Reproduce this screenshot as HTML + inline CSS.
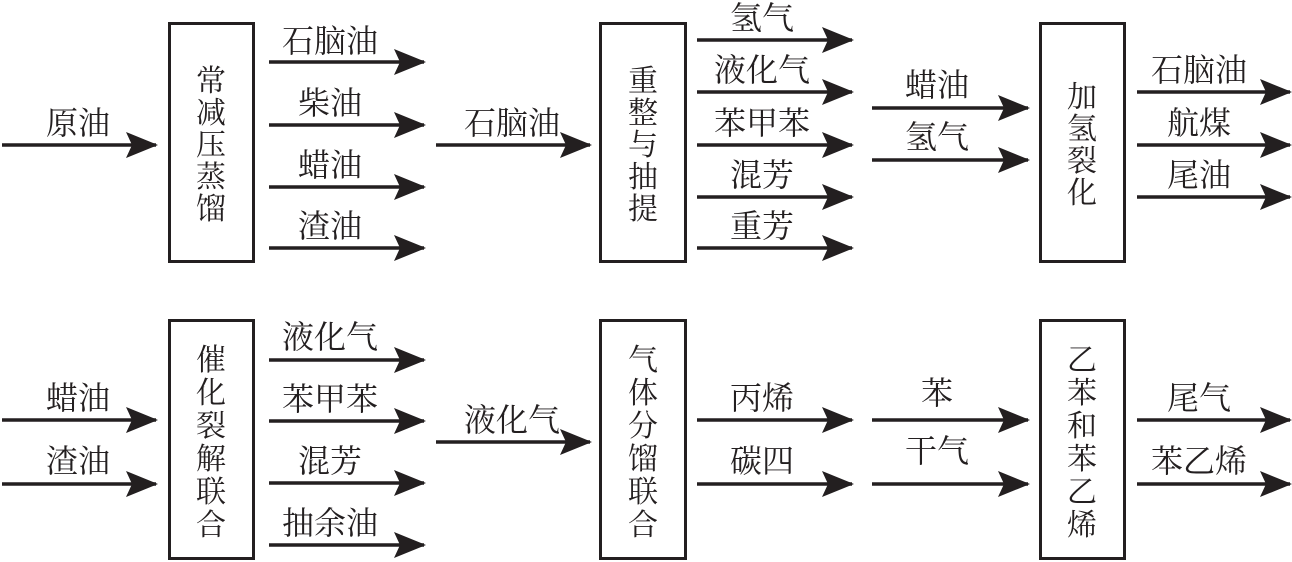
<!DOCTYPE html>
<html><head><meta charset="utf-8"><style>
html,body{margin:0;padding:0;background:#fff;}
svg{display:block;}
text{font-family:"Liberation Serif","Noto Serif CJK SC",serif;font-size:30px;fill:#231f20;}
.l text{font-size:32px;}
</style></head><body>
<svg width="1292" height="562" viewBox="0 0 1292 562" xmlns="http://www.w3.org/2000/svg">
<defs>
<marker id="ah" markerWidth="32" markerHeight="26" refX="30" refY="13" orient="auto" markerUnits="userSpaceOnUse">
<path d="M0,0 L32,13 L0,26 L6,13 Z" fill="#231f20"/>
</marker>
</defs>
<g stroke="#231f20" stroke-width="3.5" fill="none" marker-end="url(#ah)">
<line x1="2" y1="145" x2="156" y2="145"/>
<line x1="269" y1="62" x2="424" y2="62"/>
<line x1="269" y1="125" x2="424" y2="125"/>
<line x1="269" y1="187" x2="424" y2="187"/>
<line x1="269" y1="248" x2="424" y2="248"/>
<line x1="436" y1="145" x2="590" y2="145"/>
<line x1="697" y1="40" x2="852" y2="40"/>
<line x1="697" y1="92" x2="852" y2="92"/>
<line x1="697" y1="145" x2="852" y2="145"/>
<line x1="697" y1="197" x2="852" y2="197"/>
<line x1="697" y1="248" x2="852" y2="248"/>
<line x1="872" y1="108" x2="1028" y2="108"/>
<line x1="872" y1="160" x2="1028" y2="160"/>
<line x1="1137" y1="92" x2="1290" y2="92"/>
<line x1="1137" y1="145" x2="1290" y2="145"/>
<line x1="1137" y1="197" x2="1290" y2="197"/>
<line x1="2" y1="420" x2="156" y2="420"/>
<line x1="2" y1="484" x2="156" y2="484"/>
<line x1="269" y1="360" x2="424" y2="360"/>
<line x1="269" y1="421" x2="424" y2="421"/>
<line x1="269" y1="483" x2="424" y2="483"/>
<line x1="269" y1="545" x2="424" y2="545"/>
<line x1="436" y1="442" x2="590" y2="442"/>
<line x1="697" y1="420" x2="852" y2="420"/>
<line x1="697" y1="484" x2="852" y2="484"/>
<line x1="872" y1="420" x2="1028" y2="420"/>
<line x1="872" y1="484" x2="1028" y2="484"/>
<line x1="1137" y1="420" x2="1290" y2="420"/>
<line x1="1137" y1="484" x2="1290" y2="484"/>
</g>
<g stroke="#231f20" stroke-width="3" fill="none">
<rect x="169.5" y="23.5" width="84" height="238"/>
<rect x="600.5" y="23.5" width="85" height="238"/>
<rect x="1040.5" y="23.5" width="84" height="238"/>
<rect x="169.5" y="320.5" width="84" height="238"/>
<rect x="600.5" y="320.5" width="85" height="238"/>
<rect x="1040.5" y="320.5" width="84" height="238"/>
</g>
<g text-anchor="middle">
<text x="211" y="91"><tspan x="211">常</tspan><tspan x="211" dy="32">减</tspan><tspan x="211" dy="32">压</tspan><tspan x="211" dy="32">蒸</tspan><tspan x="211" dy="32">馏</tspan></text>
<text x="643" y="91"><tspan x="643">重</tspan><tspan x="643" dy="32">整</tspan><tspan x="643" dy="32">与</tspan><tspan x="643" dy="32">抽</tspan><tspan x="643" dy="32">提</tspan></text>
<text x="1082" y="107"><tspan x="1082">加</tspan><tspan x="1082" dy="32">氢</tspan><tspan x="1082" dy="32">裂</tspan><tspan x="1082" dy="32">化</tspan></text>
<text x="211" y="370"><tspan x="211">催</tspan><tspan x="211" dy="33">化</tspan><tspan x="211" dy="33">裂</tspan><tspan x="211" dy="33">解</tspan><tspan x="211" dy="33">联</tspan><tspan x="211" dy="33">合</tspan></text>
<text x="643" y="370"><tspan x="643">气</tspan><tspan x="643" dy="33">体</tspan><tspan x="643" dy="33">分</tspan><tspan x="643" dy="33">馏</tspan><tspan x="643" dy="33">联</tspan><tspan x="643" dy="33">合</tspan></text>
<text x="1082" y="370"><tspan x="1082">乙</tspan><tspan x="1082" dy="33">苯</tspan><tspan x="1082" dy="33">和</tspan><tspan x="1082" dy="33">苯</tspan><tspan x="1082" dy="33">乙</tspan><tspan x="1082" dy="33">烯</tspan></text>
</g>
<g text-anchor="middle" class="l">
<text x="78" y="134">原油</text>
<text x="330" y="52">石脑油</text>
<text x="330" y="114">柴油</text>
<text x="330" y="176">蜡油</text>
<text x="330" y="237">渣油</text>
<text x="512" y="134">石脑油</text>
<text x="762" y="29">氢气</text>
<text x="762" y="81">液化气</text>
<text x="762" y="134">苯甲苯</text>
<text x="762" y="186">混芳</text>
<text x="762" y="237">重芳</text>
<text x="937" y="96">蜡油</text>
<text x="937" y="148">氢气</text>
<text x="1199" y="81">石脑油</text>
<text x="1199" y="134">航煤</text>
<text x="1199" y="186">尾油</text>
<text x="78" y="409">蜡油</text>
<text x="78" y="472">渣油</text>
<text x="330" y="348">液化气</text>
<text x="330" y="410">苯甲苯</text>
<text x="330" y="472">混芳</text>
<text x="330" y="534">抽余油</text>
<text x="512" y="431">液化气</text>
<text x="762" y="409">丙烯</text>
<text x="762" y="472">碳四</text>
<text x="937" y="404">苯</text>
<text x="937" y="462">干气</text>
<text x="1199" y="409">尾气</text>
<text x="1199" y="472">苯乙烯</text>
</g>
</svg>
</body></html>
